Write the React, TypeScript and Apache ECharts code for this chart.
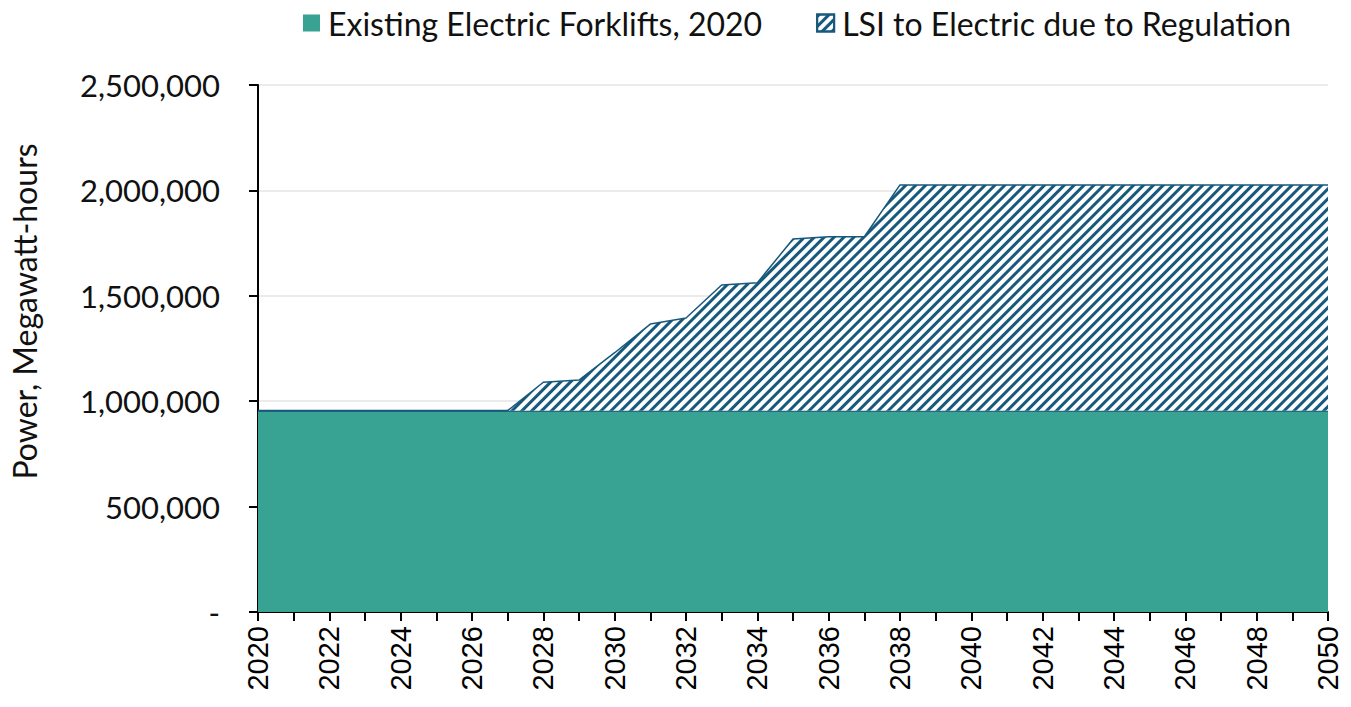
import React, { useEffect, useRef } from "react";
import * as echarts from "echarts";

const years = [
  "2020", "2021", "2022", "2023", "2024", "2025", "2026", "2027", "2028", "2029",
  "2030", "2031", "2032", "2033", "2034", "2035", "2036", "2037", "2038", "2039",
  "2040", "2041", "2042", "2043", "2044", "2045", "2046", "2047", "2048", "2049", "2050",
];

const existingElectric = [
  955000, 955000, 955000, 955000, 955000, 955000, 955000, 955000, 955000, 955000,
  955000, 955000, 955000, 955000, 955000, 955000, 955000, 955000, 955000, 955000,
  955000, 955000, 955000, 955000, 955000, 955000, 955000, 955000, 955000, 955000, 955000,
];

const lsiToElectric = [
  0, 0, 0, 0, 0, 0, 0, 0, 135000, 145000,
  275000, 411000, 440000, 596000, 607000, 814000, 825000, 825000, 1071000, 1071000,
  1071000, 1071000, 1071000, 1071000, 1071000, 1071000, 1071000, 1071000, 1071000, 1071000, 1071000,
];

const yTicks = [0, 500000, 1000000, 1500000, 2000000, 2500000];

const TEAL = "#39a393";
const NAVY = "#17597c";

export default function App() {
  const ref = useRef<HTMLDivElement>(null);

  useEffect(() => {
    if (!ref.current) return;
    const chart = echarts.init(ref.current, null, { renderer: "svg" });
    chart.setOption({
      animation: false,
      backgroundColor: "#ffffff",
      legend: {
        top: 2,
        left: 298,
        itemWidth: 17,
        itemHeight: 17,
        itemGap: 54,
        textStyle: { fontFamily: "Lato", fontSize: 32, color: "#111", padding: [0, 0, 0, 3] },
        data: [
          { name: "Existing Electric Forklifts, 2020", icon: "rect" },
          { name: "LSI to Electric due to Regulation", icon: "rect" },
        ],
      },
      grid: { left: 257, top: 85, width: 1071, height: 527, containLabel: false },
      xAxis: {
        type: "category",
        data: years,
        boundaryGap: false,
        axisLine: { lineStyle: { color: "#000", width: 2 } },
        axisTick: { show: true, interval: 0, length: 9, lineStyle: { color: "#000", width: 2 } },
        axisLabel: {
          interval: 1,
          rotate: 90,
          margin: 14,
          fontFamily: "Liberation Sans",
          fontSize: 29,
          color: "#000",
        },
        splitLine: { show: false },
      },
      yAxis: {
        type: "value",
        min: yTicks[0],
        max: yTicks[yTicks.length - 1],
        interval: yTicks[1] - yTicks[0],
        name: "Power, Megawatt-hours",
        nameLocation: "middle",
        nameGap: 218,
        nameTextStyle: {
          fontFamily: "Lato",
          fontSize: 32,
          color: "#111",
          padding: [0, 0, 0, 74],
        },
        axisLine: { show: true, lineStyle: { color: "#000", width: 2 } },
        axisTick: { show: true, length: 9, lineStyle: { color: "#000", width: 2 } },
        axisLabel: {
          margin: 38,
          fontFamily: "Lato",
          fontSize: 31,
          color: "#111",
          formatter: (v: number) => (v === 0 ? "-" : v.toLocaleString("en-US")),
        },
        splitLine: { show: true, lineStyle: { color: "#ebebeb", width: 2 } },
      },
      series: [
        {
          name: "Existing Electric Forklifts, 2020",
          type: "line",
          stack: "total",
          data: existingElectric,
          symbol: "none",
          lineStyle: { color: NAVY, width: 2 },
          itemStyle: { color: TEAL },
          areaStyle: { color: TEAL, opacity: 1 },
          z: 2,
        },
        {
          name: "LSI to Electric due to Regulation",
          type: "line",
          stack: "total",
          data: lsiToElectric,
          symbol: "none",
          lineStyle: { color: NAVY, width: 1.5 },
          itemStyle: {
            color: "#ffffff",
            borderColor: NAVY,
            borderWidth: 1.5,
            decal: {
              symbol: "rect",
              symbolSize: 1,
              color: NAVY,
              backgroundColor: "#ffffff",
              dashArrayX: [1, 0],
              dashArrayY: [2.6, 3.2],
              rotation: -Math.PI / 4,
            },
          },
          areaStyle: { opacity: 1 },
          z: 3,
        },
      ],
    });
    return () => chart.dispose();
  }, []);

  return (
    <div
      ref={ref}
      style={{ position: "fixed", left: 0, top: 0, width: 1351, height: 707 }}
    />
  );
}
